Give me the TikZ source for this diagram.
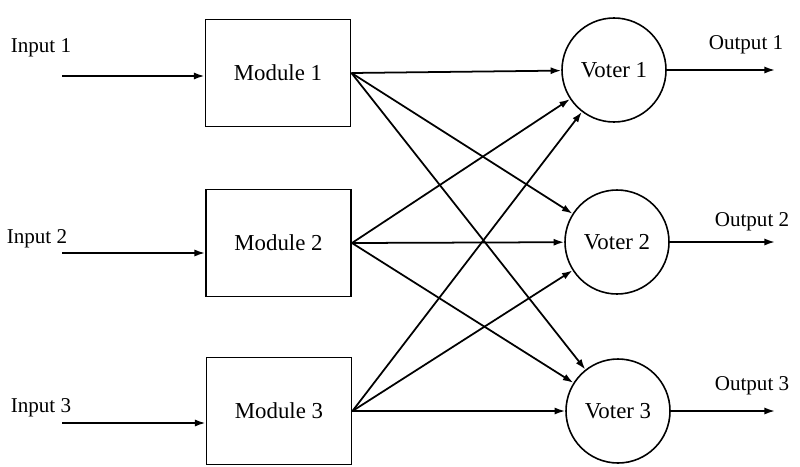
\documentclass[tikz,border=0pt]{standalone}
\usepackage{fontspec}
\setmainfont{Liberation Serif}
\usetikzlibrary{arrows.meta}

\begin{document}
\begin{tikzpicture}

        % Stili: moduli, votatori, frecce
        \tikzset{
            modulo/.style={draw, line width=1.1pt, minimum width=2.9cm, minimum height=2.14cm, font=\fontsize{13}{15}\selectfont},
            votatore/.style={draw, circle, line width=0.9pt, minimum size=2.08cm, inner sep=0pt, font=\fontsize{13}{15}\selectfont},
            freccia/.style={line width=1pt, -{Latex[length=6pt,width=4pt]}},
            etichetta/.style={font=\fontsize{12}{14}\selectfont}
        }

        % Area del disegno (16 x 9.32)
        \useasboundingbox (0,0) rectangle (16,-9.32);

        % Moduli ridondanti
        \node[modulo] (m1) at (5.56,-1.46) {Module 1};
        \node[modulo] (m2) at (5.57,-4.86) {Module 2};
        \node[modulo] (m3) at (5.58,-8.22) {Module 3};

        % Votatori
        \node[votatore] (v1) at (12.28,-1.40) {Voter 1};
        \node[votatore] (v2) at (12.34,-4.84) {Voter 2};
        \node[votatore] (v3) at (12.36,-8.22) {Voter 3};

        % Ingressi
        \node[etichetta] (l1) at (0.82,-0.96) {Input 1};
        \node[etichetta] (l2) at (0.74,-4.78) {Input 2};
        \node[etichetta] (l3) at (0.82,-8.16) {Input 3};
        \coordinate (in1) at (1.24,-1.52);
        \coordinate (in2) at (1.24,-5.06);
        \coordinate (in3) at (1.24,-8.46);
        \draw[freccia] (in1) -- (in1 -| m1.west);
        \draw[freccia] (in2) -- (in2 -| m2.west);
        \draw[freccia] (in3) -- (in3 -| m3.west);

        % Collegamenti moduli -> votatori
        \draw[freccia] (m1.east) -- (v1);
        \draw[freccia] (m1.east) -- (v2);
        \draw[freccia] (m1.east) -- (v3);
        \draw[freccia] (m2.east) -- (v1);
        \draw[freccia] (m2.east) -- (v2);
        \draw[freccia] (m2.east) -- (v3);
        \draw[freccia] (m3.east) -- (v1);
        \draw[freccia] (m3.east) -- (v2);
        \draw[freccia] (m3.east) -- (v3);

        % Uscite
        \node[etichetta] (u1) at (14.92,-0.90) {Output 1};
        \node[etichetta] (u2) at (15.04,-4.44) {Output 2};
        \node[etichetta] (u3) at (15.04,-7.72) {Output 3};
        \coordinate (out1) at (15.5,-1.40);
        \coordinate (out2) at (15.5,-4.84);
        \coordinate (out3) at (15.5,-8.22);
        \draw[freccia] (v1.east) -- (out1);
        \draw[freccia] (v2.east) -- (out2);
        \draw[freccia] (v3.east) -- (out3);

    \end{tikzpicture}
\end{document}
